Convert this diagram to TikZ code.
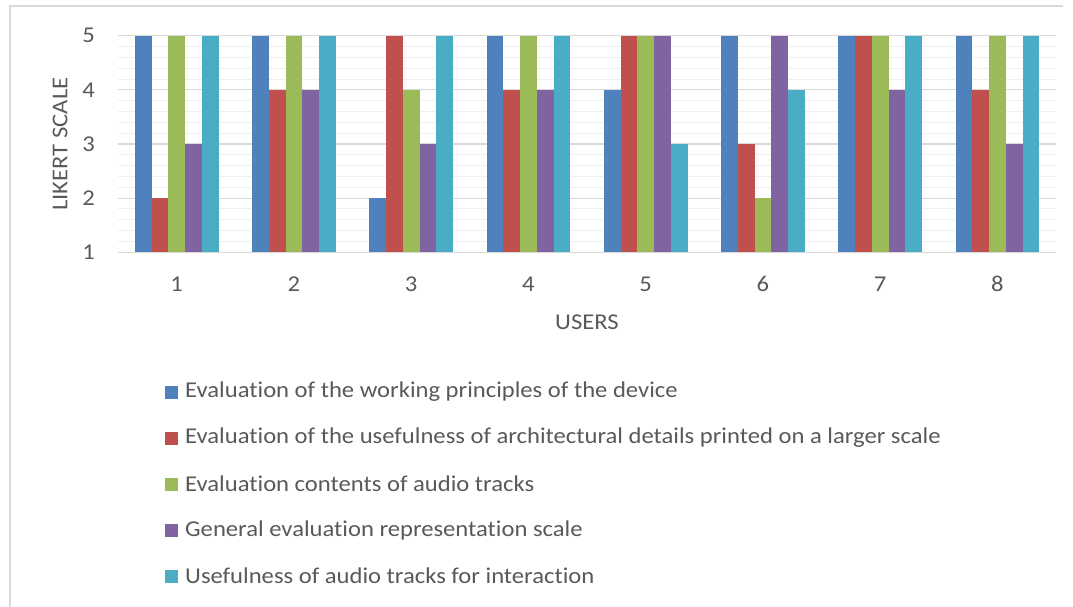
\documentclass[tikz,border=0pt]{standalone}
\usepackage{fontspec}
\setmainfont[FakeStretch=1.09,RawFeature={-liga;-clig;-dlig}]{Carlito}
\definecolor{txtc}{HTML}{595959}
\definecolor{framec}{HTML}{D9D9D9}
\definecolor{majc}{HTML}{D9D9D9}
\definecolor{minc}{HTML}{EFEFEF}
\definecolor{s1}{HTML}{4F81BD}
\definecolor{s2}{HTML}{C0504D}
\definecolor{s3}{HTML}{9BBB59}
\definecolor{s4}{HTML}{8064A2}
\definecolor{s5}{HTML}{4BACC6}
\begin{document}
\begin{tikzpicture}[x=1pt,y=-1pt,
  lbl/.style={text=txtc,font=\fontsize{22.6}{26}\selectfont,inner sep=0pt},
  legbox/.style={minimum size=13pt,inner sep=0pt},
  majgrid/.style={draw=majc,line width=1.3pt},
  mingrid/.style={draw=minc,line width=1pt}]
\useasboundingbox (0,0) rectangle (1073,607);
% frame
\draw[draw=framec,line width=1.3pt] (10,607) -- (10,6) -- (1063,6);
% minor grid
\foreach \i in {1,...,19}{
  \draw[mingrid] (118,{252.3-\i*10.83}) -- (1056,{252.3-\i*10.83});
}
% major grid
\foreach \i in {0,...,4}{
  \draw[majgrid] (118,{252.3-\i*54.15}) -- (1056,{252.3-\i*54.15});
  \pgfmathtruncatemacro{\lab}{\i+1}
  \node[lbl,anchor=east] (yt\lab) at (95,{252.3-\i*54.15}) {\lab};
}
% bars
\foreach \u/\va/\vb/\vc/\vd/\ve in {1/5/2/5/3/5,2/5/4/5/4/5,3/2/5/4/3/5,4/5/4/5/4/5,5/4/5/5/5/3,6/5/3/2/5/4,7/5/5/5/4/5,8/5/4/5/3/5}{
  \foreach \k/\v/\col in {0/\va/s1,1/\vb/s2,2/\vc/s3,3/\vd/s4,4/\ve/s5}{
    \fill[\col] ({118+(\u-1)*117.25+16.75+\k*16.75},252.3) rectangle ({118+(\u-1)*117.25+16.75+(\k+1)*16.75},{252.3-(\v-1)*54.15});
  }
  \node[lbl] (xt\u) at ({118+(\u-0.5)*117.25},284) {\u};
}
% axis titles
\node[lbl,rotate=90] (ytitle) at (60,144) {LIKERT SCALE};
\node[lbl] (xtitle) at (587,322) {USERS};
% legend
\foreach \r/\col/\t in {0/s1/Evaluation of the working principles of the device,
  1/s2/Evaluation of the usefulness of architectural details printed on a larger scale,
  2/s3/Evaluation contents of audio tracks,
  3/s4/General evaluation representation scale,
  4/s5/Usefulness of audio tracks for interaction}{
  \node[legbox,fill=\col] (lb\r) at (171.5,{392+\r*46}) {};
  \node[lbl,anchor=west] (lt\r) at (185,{392+\r*46}) {\t};
}
\end{tikzpicture}
\end{document}
